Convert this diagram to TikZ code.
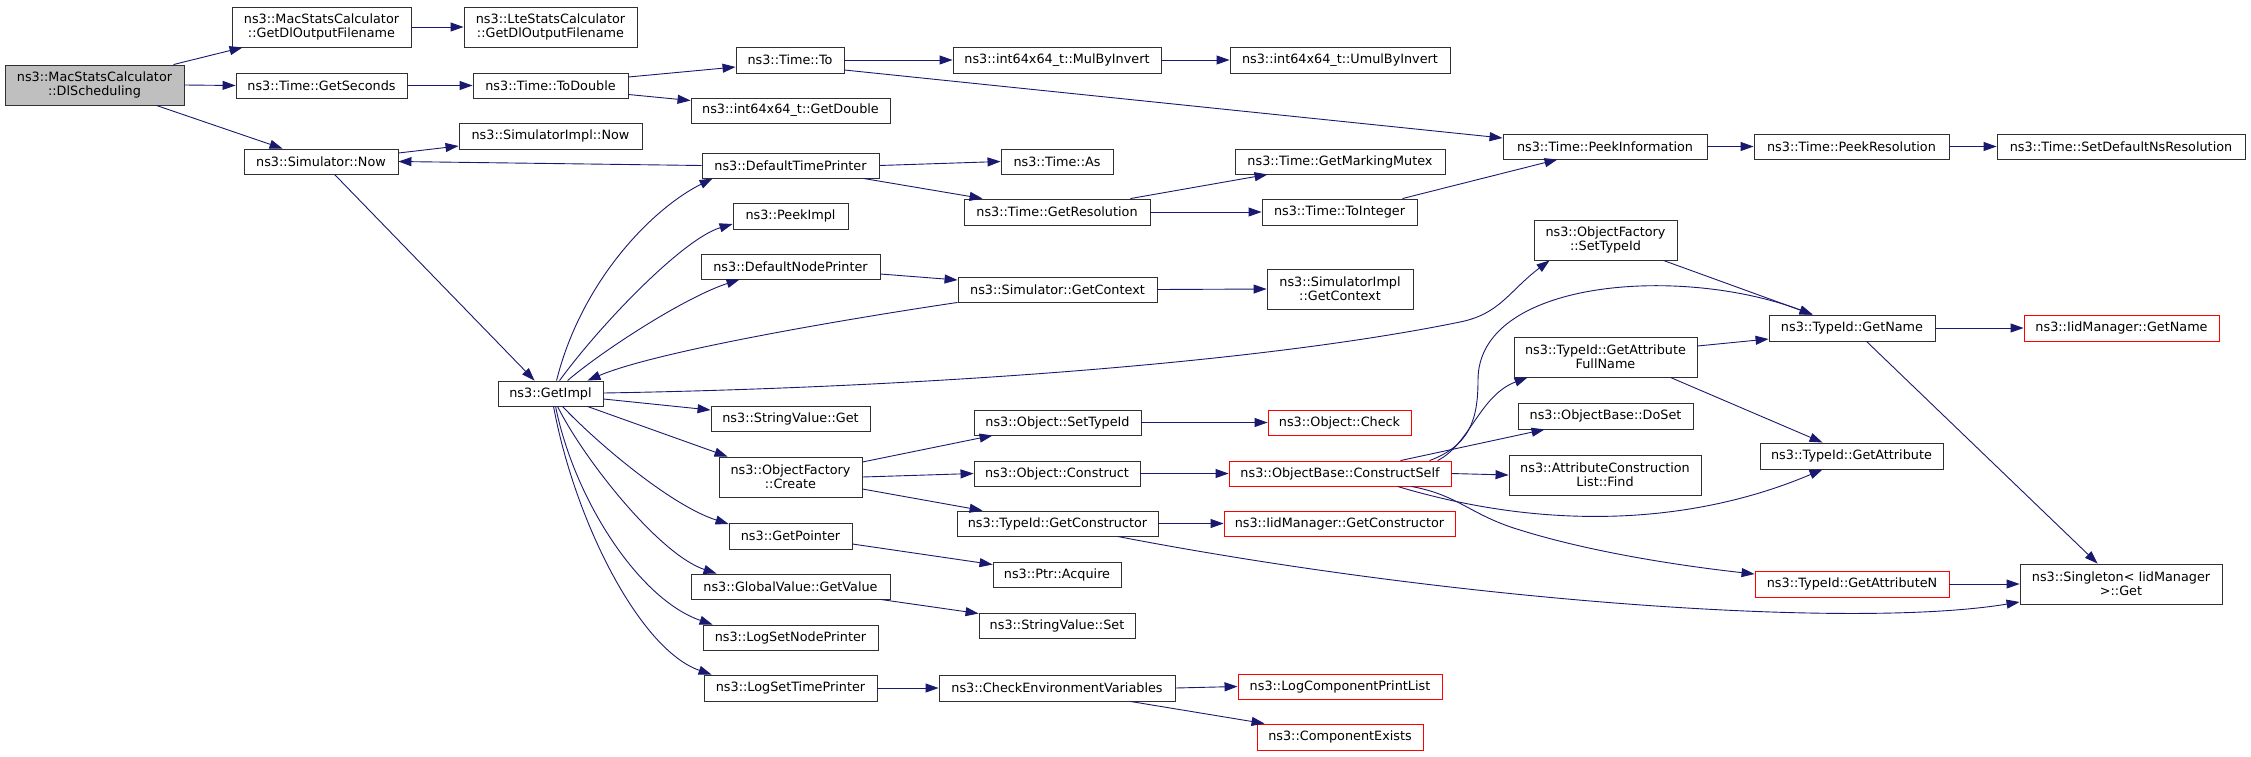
\documentclass[tikz,border=0pt]{standalone}
\usepackage{fontspec}
\setmainfont{DejaVu Sans}
\usetikzlibrary{arrows.meta,calc}
\definecolor{edgec}{HTML}{191970}
\definecolor{nodeb}{HTML}{303030}
\begin{document}
\begin{tikzpicture}[x=1pt,y=-1pt,
  fn/.style={draw=nodeb, fill=white, line width=0.9pt, inner sep=0pt, align=center, font=\fontsize{12.8}{14.2}\selectfont},
  rfn/.style={fn, draw=red},
  rootfn/.style={fn, fill=gray!50},
  sz/.style 2 args={minimum width=#1, minimum height=#2},
  e/.style={draw=edgec, line width=0.9pt, -{Triangle[length=13pt,width=9pt]}}]
\useasboundingbox[fill=white] (0,0) rectangle (2251,756);
% nodes
\node[rootfn, sz={179}{40}] (dls) at (94.5,85) {ns3::MacStatsCalculator\\::DlScheduling};
\node[fn, sz={179}{40}] (mac) at (321.5,27) {ns3::MacStatsCalculator\\::GetDlOutputFilename};
\node[fn, sz={173}{40}] (lte) at (550.5,27) {ns3::LteStatsCalculator\\::GetDlOutputFilename};
\node[fn, sz={171}{25}] (secs) at (321.5,85.5) {ns3::Time::GetSeconds};
\node[fn, sz={154}{25}] (now) at (321,161.5) {ns3::Simulator::Now};
\node[fn, sz={155}{25}] (todbl) at (550.5,85.5) {ns3::Time::ToDouble};
\node[fn, sz={183}{26}] (simnow) at (550.5,136) {ns3::SimulatorImpl::Now};
\node[fn, sz={108}{26}] (to) at (790,60) {ns3::Time::To};
\node[fn, sz={199}{25}] (getdbl) at (790.5,110.5) {ns3::int64x64\_t::GetDouble};
\node[fn, sz={177}{25}] (dtp) at (790.5,165.5) {ns3::DefaultTimePrinter};
\node[fn, sz={115}{26}] (peekimpl) at (790.5,216) {ns3::PeekImpl};
\node[fn, sz={179}{25}] (dnp) at (790.5,266.5) {ns3::DefaultNodePrinter};
\node[fn, sz={105}{25}] (getimpl) at (550.5,393.5) {ns3::GetImpl};
\node[fn, sz={208}{26}] (mul) at (1057,60) {ns3::int64x64\_t::MulByInvert};
\node[fn, sz={220}{26}] (umul) at (1340,60) {ns3::int64x64\_t::UmulByInvert};
\node[fn, sz={112}{25}] (as) at (1057,161.5) {ns3::Time::As};
\node[fn, sz={210}{25}] (gmm) at (1340,161.5) {ns3::Time::GetMarkingMutex};
\node[fn, sz={186}{26}] (getres) at (1057,212) {ns3::Time::GetResolution};
\node[fn, sz={155}{26}] (toint) at (1339.5,212) {ns3::Time::ToInteger};
\node[fn, sz={199}{25}] (sgc) at (1057.5,289.5) {ns3::Simulator::GetContext};
\node[fn, sz={146}{40}] (sigc) at (1340,289) {ns3::SimulatorImpl\\::GetContext};
\node[fn, sz={204}{25}] (peekinfo) at (1605,146.5) {ns3::Time::PeekInformation};
\node[fn, sz={195}{25}] (peekres) at (1851.5,146.5) {ns3::Time::PeekResolution};
\node[fn, sz={248}{25}] (setdef) at (2121,146.5) {ns3::Time::SetDefaultNsResolution};
\node[fn, sz={143}{40}] (ofsti) at (1605.5,240) {ns3::ObjectFactory\\::SetTypeId};
\node[fn, sz={166}{26}] (getname) at (1852,328) {ns3::TypeId::GetName};
\node[rfn, sz={195}{26}] (iidname) at (2121.5,328) {ns3::IidManager::GetName};
\node[fn, sz={183}{40}] (gafn) at (1605.5,357) {ns3::TypeId::GetAttribute\\FullName};
\node[fn, sz={159}{25}] (svget) at (790.5,418.5) {ns3::StringValue::Get};
\node[fn, sz={143}{40}] (create) at (790.5,477) {ns3::ObjectFactory\\::Create};
\node[fn, sz={123}{26}] (getptr) at (790.5,536) {ns3::GetPointer};
\node[fn, sz={199}{25}] (gvget) at (790.5,586.5) {ns3::GlobalValue::GetValue};
\node[fn, sz={175}{25}] (lsnp) at (790.5,637.5) {ns3::LogSetNodePrinter};
\node[fn, sz={173}{26}] (lstp) at (790.5,688) {ns3::LogSetTimePrinter};
\node[fn, sz={167}{25}] (ost) at (1057.5,422.5) {ns3::Object::SetTypeId};
\node[rfn, sz={143}{25}] (check) at (1339.5,422.5) {ns3::Object::Check};
\node[fn, sz={166}{25}] (oc) at (1057,473.5) {ns3::Object::Construct};
\node[rfn, sz={222}{25}] (cs) at (1340,473.5) {ns3::ObjectBase::ConstructSelf};
\node[fn, sz={201}{25}] (getc) at (1057.5,523.5) {ns3::TypeId::GetConstructor};
\node[rfn, sz={231}{25}] (iidc) at (1339.5,523.5) {ns3::IidManager::GetConstructor};
\node[fn, sz={128}{25}] (ptracq) at (1057,574.5) {ns3::Ptr::Acquire};
\node[fn, sz={156}{25}] (svset) at (1057,625.5) {ns3::StringValue::Set};
\node[fn, sz={236}{26}] (cev) at (1057,688) {ns3::CheckEnvironmentVariables};
\node[rfn, sz={204}{25}] (lcpl) at (1340,686.5) {ns3::LogComponentPrintList};
\node[rfn, sz={166}{26}] (ce) at (1340,737) {ns3::ComponentExists};
\node[fn, sz={175}{26}] (doset) at (1605.5,416) {ns3::ObjectBase::DoSet};
\node[fn, sz={192}{40}] (find) at (1605,475) {ns3::AttributeConstruction\\List::Find};
\node[fn, sz={183}{26}] (getattr) at (1851.5,456) {ns3::TypeId::GetAttribute};
\node[rfn, sz={194}{26}] (gan) at (1852,584) {ns3::TypeId::GetAttributeN};
\node[fn, sz={202}{40}] (singleton) at (2121,584) {ns3::Singleton< IidManager\\ >::Get};
% edges
\draw[e] ($(dls.north east)+(-11,0)$) -- ($(mac.south west)+(11,0)$);
\draw[e] (dls.east) -- (secs.west);
\draw[e] ($(dls.south east)+(-28,0)$) -- ($(now.north west)+(39,0)$);
\draw[e] (mac.east) -- (lte.west);
\draw[e] (secs.east) -- (todbl.west);
\draw[e] ($(now.east)+(0,-8.5)$) -- ($(simnow.west)+(0,10)$);
\draw[e] ($(now.south west)+(91,0)$) -- ($(getimpl.north west)+(37,0)$);
\draw[e] (dtp.west) -- (now.east);
\draw[e] ($(todbl.east)+(0,-8.5)$) -- ($(to.west)+(0,7)$);
\draw[e] ($(todbl.east)+(0,9)$) -- ($(getdbl.west)+(0,-10)$);
\draw[e] (to.east) -- (mul.west);
\draw[e] ($(to.east)+(0,10)$) -- ($(peekinfo.west)+(0,-8.5)$);
\draw[e] (mul.east) -- (umul.west);
\draw[e] (dtp.east) -- (as.west);
\draw[e] ($(dtp.south east)+(-16,0)$) -- ($(getres.north west)+(19,0)$);
\draw[e] ($(getres.north east)+(-20,0)$) -- ($(gmm.south west)+(33,0)$);
\draw[e] (getres.east) -- (toint.west);
\draw[e] ($(toint.north east)+(-15,0)$) -- ($(peekinfo.south west)+(55,0)$);
\draw[e] (peekinfo.east) -- (peekres.west);
\draw[e] (peekres.east) -- (setdef.west);
\draw[e] ($(getimpl.north west)+(59,0)$) .. controls +(25,-100) and +(-60,30) .. ($(dtp.south west)+(11,0)$);
\draw[e] ($(getimpl.north west)+(62,0)$) .. controls +(40,-55) and +(-50,15) .. ($(peekimpl.west)+(0,8)$);
\draw[e] ($(getimpl.north west)+(70,0)$) .. controls +(35,-30) and +(-55,18) .. ($(dnp.south west)+(39,0)$);
\draw[e] ($(dnp.east)+(0,7.5)$) -- ($(sgc.west)+(0,-9.5)$);
\draw[e] (sgc.south west) .. controls +(-88,13) and +(73,-31) .. ($(getimpl.north east)+(-16,0)$);
\draw[e] (sgc.east) -- (sigc.west);
\draw[e] ($(getimpl.east)+(0,-0.5)$) .. controls +(297,-5) and +(-210,43) .. (1460,322) .. controls +(40,-8) and +(-40,30) .. ($(ofsti.south west)+(16,0)$);
\draw[e] ($(ofsti.south east)+(-14,0)$) -- ($(getname.north west)+(44,0)$);
\draw[e] ($(getimpl.east)+(0,5.5)$) -- ($(svget.west)+(0,-8.5)$);
\draw[e] ($(getimpl.south east)+(-16,0)$) -- ($(create.north west)+(9,0)$);
\draw[e] ($(getimpl.south west)+(65,0)$) .. controls +(32,34) and +(-59,-19) .. ($(getptr.west)+(0,-12)$);
\draw[e] ($(getimpl.south west)+(60,0)$) .. controls +(27,54) and +(-57,-19) .. ($(gvget.north west)+(26,0)$);
\draw[e] ($(getimpl.south west)+(58,0)$) .. controls +(19,94) and +(-73,-25) .. ($(lsnp.north west)+(10,0)$);
\draw[e] ($(getimpl.south west)+(56,0)$) .. controls +(21,114) and +(-72,-25) .. ($(lstp.north west)+(8,0)$);
\draw[e] ($(create.east)+(0,-15)$) -- ($(ost.south west)+(19,0)$);
\draw[e] (create.east) -- (oc.west);
\draw[e] ($(create.east)+(0,12)$) -- ($(getc.north west)+(26,0)$);
\draw[e] (ost.east) -- (check.west);
\draw[e] (oc.east) -- (cs.west);
\draw[e] (getc.east) -- (iidc.west);
\draw[e] ($(getc.south west)+(161,0)$) .. controls +(332,64) and +(-170,28) .. ($(singleton.west)+(0,18)$);
\draw[e] ($(getptr.east)+(0,8)$) -- ($(ptracq.west)+(0,-10)$);
\draw[e] ($(gvget.south east)+(-10,0)$) -- ($(svset.west)+(0,-12)$);
\draw[e] (lstp.east) -- (cev.west);
\draw[e] (cev.east) -- (lcpl.west);
\draw[e] ($(cev.south east)+(-45,0)$) -- ($(ce.north west)+(8,0)$);
\draw[e] ($(cs.north west)+(201,0)$) .. controls +(40,-15) and +(0,40) .. (1478,380) .. controls +(0,-100) and +(-133,-50) .. ($(getname.north west)+(44,0)$);
\draw[e] ($(cs.north west)+(209,0)$) .. controls +(32,-16) and +(-48,18) .. ($(gafn.south west)+(14,0)$);
\draw[e] ($(cs.north east)+(-51,0)$) -- ($(doset.south west)+(27,0)$);
\draw[e] (cs.east) -- (find.west);
\draw[e] ($(cs.south west)+(169,0)$) .. controls +(150,45) and +(-130,55) .. ($(getattr.south west)+(63,0)$);
\draw[e] ($(cs.south west)+(183,0)$) .. controls +(48,9) and +(-50,-15) .. (1520,530) .. controls +(80,25) and +(-55,-6) .. ($(gan.west)+(0,-10)$);
\draw[e] ($(gafn.east)+(0,-11)$) -- ($(getname.west)+(0,11)$);
\draw[e] ($(gafn.south east)+(-27,0)$) -- ($(getattr.north west)+(63,0)$);
\draw[e] (getname.east) -- (iidname.west);
\draw[e] ($(getname.south west)+(98,0)$) -- ($(singleton.north west)+(78,0)$);
\draw[e] (gan.east) -- (singleton.west);
\end{tikzpicture}
\end{document}
